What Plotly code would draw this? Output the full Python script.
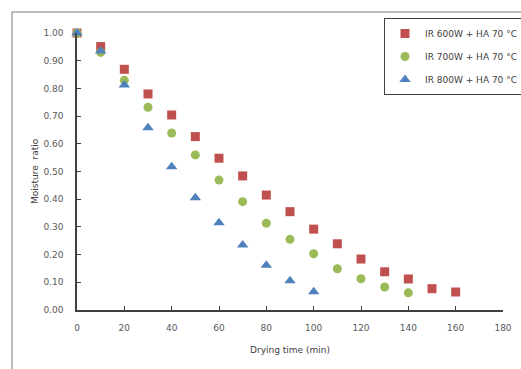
import plotly.graph_objects as go

time = [0, 10, 20, 30, 40, 50, 60, 70, 80, 90, 100, 110, 120, 130, 140, 150, 160]
mr_600 = [1.00, 0.951, 0.869, 0.780, 0.704, 0.626, 0.548, 0.484, 0.415, 0.355, 0.292, 0.239, 0.184, 0.138, 0.112, 0.077, 0.065]
mr_700 = [1.00, 0.930, 0.829, 0.732, 0.639, 0.560, 0.469, 0.391, 0.313, 0.255, 0.203, 0.149, 0.113, 0.083, 0.062]
mr_800 = [1.00, 0.935, 0.812, 0.658, 0.517, 0.405, 0.315, 0.235, 0.162, 0.106, 0.066]

names = ["IR 600W + HA 70 \u00b0C", "IR 700W + HA 70 \u00b0C", "IR 800W + HA 70 \u00b0C"]
colors = ["#C0504D", "#9BBB59", "#4F81BD"]
symbols = ["square", "circle", "triangle-up"]
sizes = [9, 9, 10]
series = [mr_600, mr_700, mr_800]

fig = go.Figure()
for i, (name, vals, c, s, sz) in enumerate(zip(names, series, colors, symbols, sizes)):
    fig.add_trace(go.Scatter(
        x=time[:len(vals)], y=vals, mode="markers", name=name,
        legendgroup=f"g{i}",
        marker=dict(color=c, symbol=s, size=sz, line=dict(width=0)),
        cliponaxis=False,
    ))

W, H = 521, 369
L, R, T, B = 77, 18, 33, 59
pw, ph = W - L - R, H - T - B

def px(xp):
    return (xp - L) / pw

def py(yp):
    return (H - B - yp) / ph

fig.update_layout(
    width=W, height=H,
    margin=dict(l=L, r=R, t=T, b=B, autoexpand=False),
    paper_bgcolor="white", plot_bgcolor="white",
    font=dict(family="DejaVu Sans", size=9, color="#595959"),
    showlegend=True,
    legend=dict(
        x=px(384), y=py(18), xanchor="left", yanchor="top",
        bordercolor="#404040", borderwidth=1, bgcolor="white",
        font=dict(size=9, color="#404040"),
        itemwidth=30, tracegroupgap=4,
    ),
    xaxis=dict(
        range=[0, 180], tickmode="linear", tick0=0, dtick=20,
        showgrid=False, zeroline=False, showline=True,
        linecolor="#404040", linewidth=1.5,
        ticks="inside", ticklen=4, tickcolor="#404040",
        ticklabelstandoff=8,
    ),
    yaxis=dict(
        range=[0, 1.0], tickmode="linear", tick0=0, dtick=0.1, tickformat=".2f",
        showgrid=False, zeroline=False, showline=True,
        linecolor="#404040", linewidth=1.5,
        ticks="inside", ticklen=4, tickcolor="#404040",
        ticklabelstandoff=10,
    ),
    shapes=[dict(
        type="rect", xref="paper", yref="paper",
        x0=px(12), x1=px(530), y0=py(380), y1=py(12),
        line=dict(color="#A6A6A6", width=1.5), layer="below",
    )],
    annotations=[
        dict(text="Drying time (min)", xref="paper", yref="paper",
             x=px(290), y=py(350), showarrow=False,
             font=dict(size=9, color="#404040"), xanchor="center", yanchor="middle"),
        dict(text="Moisture  ratio", xref="paper", yref="paper",
             x=px(35), y=py(171), showarrow=False, textangle=-90,
             font=dict(size=9, color="#404040"), xanchor="center", yanchor="middle"),
    ],
)

fig.write_html("out.html")
